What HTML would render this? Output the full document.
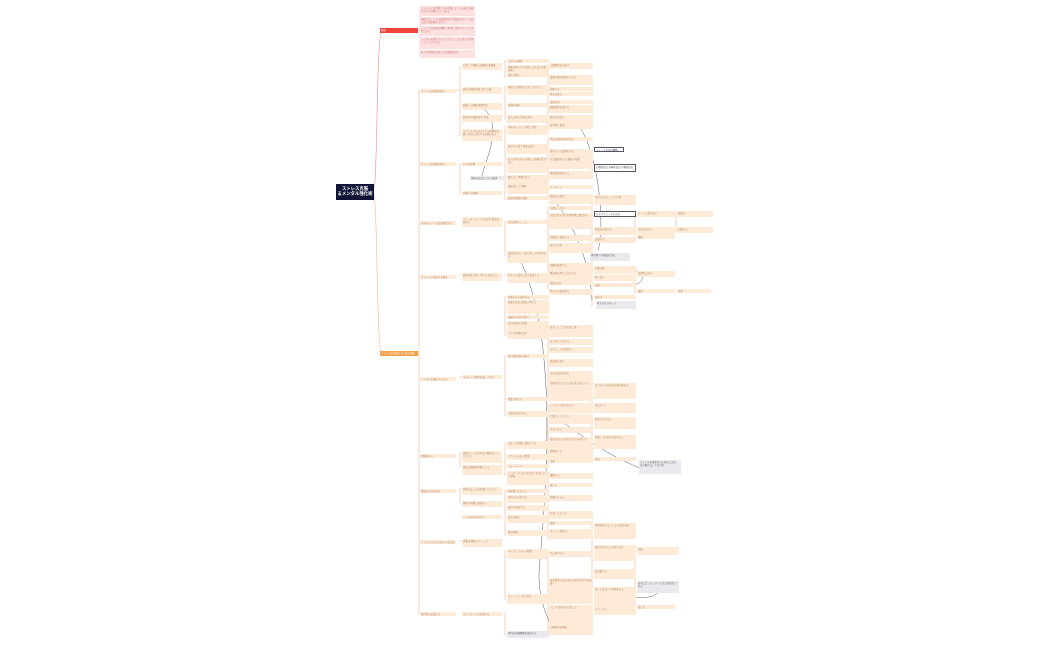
<!DOCTYPE html>
<html><head><meta charset="utf-8"><style>
html,body{margin:0;padding:0;background:#fff;width:1050px;height:650px;overflow:hidden;position:relative;font-family:"Liberation Sans","Noto Sans CJK JP",sans-serif}
.b{position:absolute;background:#fdebd8;font-size:2.4px;line-height:3px;color:#b5886a;overflow:hidden;box-sizing:border-box;padding:0.5px 1px}
.g{background:#e9e9ee;color:#666}
.o{background:#fff;border:0.6px solid #556;color:#444}
.p{background:#fde0e0;color:#c77}
svg{position:absolute;left:0;top:0}
</style></head><body>
<svg width="1050" height="650">
<g fill="none" stroke="#f2b48a" stroke-width="0.6">
<path d="M373 192 C378 192 376 30 382 30" stroke="#f08a80"/>
<path d="M373 192 C378 192 376 353 382 353"/>
<path d="M418 30 L420 30 M420 8 V56" stroke="#f4b0b0"/>
<path d="M419 90 V614 M418 353 H419"/>
<path d="M460 66 V136 M456 90 H460 M460 163 V194 M460 274 V276 M460 376 V378 M460 452 V468 M460 488 V504 M460 540 V542"/>
<path d="M505 60 V78 M505 86 V120 M505 126 V200 M505 221 V256 M505 274 V276 M505 296 V336 M505 355 V416 M505 442 V476 M505 490 V536 M505 550 V600 M505 613 V636"/>
<path d="M548 64 V130 M548 138 V200 M548 207 V290 M548 326 V400 M548 404 V464 M548 474 V500 M548 512 V540 M548 552 V636"/>
<path d="M592 150 V172 M592 196 V216 M592 228 V286 M592 296 V306 M592 384 V450 M592 524 V620"/>
<path d="M635 212 V240 M635 272 V294 M635 548 V590 M676 212 V232"/>
</g>
<g fill="none" stroke="#555a70" stroke-width="0.5">
<path d="M485 110 C505 130 480 170 482 178"/>
<path d="M540 186 C560 200 590 250 592 300"/>
<path d="M575 120 C600 150 605 230 598 250"/>
<path d="M630 270 C650 270 645 290 620 285"/>
<path d="M520 260 C560 340 545 500 540 560 C535 600 550 620 553 632"/>
<path d="M610 592 C640 600 660 600 660 586"/>
<path d="M560 420 C600 450 620 460 640 468"/>
</g>
</svg>
<div class="b" style="left:336px;top:184px;width:38px;height:16px;background:#111436;color:#fff;font-size:4.4px;line-height:5.2px;font-weight:bold;text-align:center;padding-top:2px">ストレス克服<br>るメンタル強化術</div>
<div class="b" style="left:380px;top:28px;width:38px;height:5px;background:#f0443a;color:#fff">概要</div>
<div class="b" style="left:380px;top:351px;width:38px;height:5px;background:#f5a04a;color:#fff">ストレスを克服するための実践</div>
<div class="b p" style="left:420px;top:6px;width:55px;height:10px">ストレスとは外部からの刺激によって心身に負担がかかる状態のことである</div>
<div class="b p" style="left:420px;top:17px;width:55px;height:8px">適度なストレスは成長を促すが過度なストレスは心身に悪影響を与える</div>
<div class="b p" style="left:420px;top:26px;width:55px;height:10px">ストレスの原因を理解し適切に対処することが大切である</div>
<div class="b p" style="left:420px;top:37px;width:55px;height:12px">メンタルを強化することでストレスに強い心を育てることができる</div>
<div class="b p" style="left:420px;top:50px;width:55px;height:8px">日々の習慣を見直し心の健康を保つ</div>
<div class="b" style="left:420px;top:89px;width:36px;height:4px">ストレスの原因を知る</div>
<div class="b" style="left:420px;top:162px;width:36px;height:4px">ストレスの影響を知る</div>
<div class="b" style="left:420px;top:221px;width:36px;height:4px">自分のストレス度を確認する</div>
<div class="b" style="left:420px;top:275px;width:36px;height:4px">ストレスに対処する基本</div>
<div class="b" style="left:420px;top:377px;width:36px;height:4px">メンタルを強化する方法</div>
<div class="b" style="left:420px;top:454px;width:36px;height:4px">習慣を作る</div>
<div class="b" style="left:420px;top:489px;width:36px;height:4px">周囲の協力を得る</div>
<div class="b" style="left:420px;top:540px;width:36px;height:4px">リラックスするための方法を身につける</div>
<div class="b" style="left:420px;top:612px;width:36px;height:4px">専門家に相談する</div>
<div class="b" style="left:462px;top:63px;width:40px;height:7px">仕事上の問題 人間関係 業務量</div>
<div class="b" style="left:462px;top:87px;width:40px;height:7px">家庭の問題 家族 育児 介護</div>
<div class="b" style="left:462px;top:103px;width:40px;height:7px">健康上の問題 体調不良</div>
<div class="b" style="left:462px;top:115px;width:40px;height:7px">経済的な問題 収入 借金</div>
<div class="b" style="left:462px;top:129px;width:40px;height:12px">ストレスが心身に与える影響を理解し早めに対処する必要がある</div>
<div class="b" style="left:462px;top:162px;width:40px;height:4px">心への影響</div>
<div class="b g" style="left:470px;top:176px;width:34px;height:4px">身体の反応について確認</div>
<div class="b" style="left:462px;top:191px;width:40px;height:4px">行動への影響</div>
<div class="b" style="left:462px;top:217px;width:40px;height:10px">チェックリストで自分の状態を把握する</div>
<div class="b" style="left:462px;top:273px;width:40px;height:8px">原因を取り除く 考え方を変える</div>
<div class="b" style="left:462px;top:375px;width:40px;height:4px">ポジティブ思考を身につける</div>
<div class="b" style="left:462px;top:451px;width:40px;height:12px">規則正しい生活を送り睡眠をしっかりとる</div>
<div class="b" style="left:462px;top:465px;width:40px;height:10px">適度な運動を習慣にする</div>
<div class="b" style="left:462px;top:487px;width:40px;height:8px">家族や友人に話を聞いてもらう</div>
<div class="b" style="left:462px;top:501px;width:40px;height:6px">職場の同僚に相談する</div>
<div class="b" style="left:462px;top:515px;width:40px;height:4px">一人で抱え込まない</div>
<div class="b" style="left:462px;top:539px;width:40px;height:8px">呼吸法 瞑想 ストレッチ</div>
<div class="b" style="left:462px;top:612px;width:40px;height:4px">カウンセリングを受ける</div>
<div class="b" style="left:507px;top:59px;width:42px;height:4px">上司との関係</div>
<div class="b" style="left:507px;top:65px;width:42px;height:10px">業務が多すぎて処理しきれない状態が続く</div>
<div class="b" style="left:507px;top:73px;width:42px;height:4px">責任の重さ</div>
<div class="b" style="left:507px;top:85px;width:42px;height:10px">家族との関係がうまくいかない</div>
<div class="b" style="left:507px;top:103px;width:42px;height:4px">体調の悪化</div>
<div class="b" style="left:507px;top:115px;width:42px;height:8px">収入の減少 将来の不安</div>
<div class="b" style="left:507px;top:125px;width:42px;height:10px">不安やイライラが続く状態</div>
<div class="b" style="left:507px;top:144px;width:42px;height:10px">集中力の低下 意欲の低下</div>
<div class="b" style="left:507px;top:157px;width:42px;height:16px">気分が落ち込む 何事にも興味がわかない</div>
<div class="b" style="left:507px;top:175px;width:42px;height:10px">眠れない 食欲がない</div>
<div class="b" style="left:507px;top:184px;width:42px;height:10px">頭痛 肩こり 胃痛</div>
<div class="b" style="left:507px;top:196px;width:42px;height:4px">飲酒や喫煙の増加</div>
<div class="b" style="left:507px;top:220px;width:42px;height:4px">自己診断チェック</div>
<div class="b" style="left:507px;top:251px;width:42px;height:12px">原因を特定して取り除く方法を考える</div>
<div class="b" style="left:507px;top:273px;width:42px;height:10px">考え方や受け止め方を変える</div>
<div class="b" style="left:507px;top:295px;width:42px;height:4px">物事の良い面を見る</div>
<div class="b" style="left:507px;top:300px;width:42px;height:14px">失敗を成長の機会と考える</div>
<div class="b" style="left:507px;top:315px;width:42px;height:4px">感謝の気持ちを持つ</div>
<div class="b" style="left:507px;top:321px;width:42px;height:10px">自分を褒める習慣</div>
<div class="b" style="left:507px;top:331px;width:42px;height:8px">小さな目標を設定</div>
<div class="b" style="left:507px;top:354px;width:42px;height:4px">自己肯定感を高める</div>
<div class="b" style="left:507px;top:397px;width:42px;height:4px">柔軟な考え方</div>
<div class="b" style="left:507px;top:411px;width:42px;height:6px">完璧主義をやめる</div>
<div class="b" style="left:507px;top:441px;width:42px;height:8px">決まった時間に寝起きする</div>
<div class="b" style="left:507px;top:454px;width:42px;height:6px">バランスの良い食事</div>
<div class="b" style="left:507px;top:464px;width:42px;height:4px">ウォーキング</div>
<div class="b" style="left:507px;top:471px;width:42px;height:14px">ジョギング ヨガ 水泳など自分に合った運動</div>
<div class="b" style="left:507px;top:489px;width:42px;height:4px">話を聞いてもらう</div>
<div class="b" style="left:507px;top:495px;width:42px;height:8px">気持ちを共有する</div>
<div class="b" style="left:507px;top:505px;width:42px;height:6px">悩みを相談する</div>
<div class="b" style="left:507px;top:515px;width:42px;height:8px">協力を頼む</div>
<div class="b" style="left:507px;top:530px;width:42px;height:6px">腹式呼吸</div>
<div class="b" style="left:507px;top:549px;width:42px;height:10px">マインドフルネス瞑想</div>
<div class="b" style="left:507px;top:594px;width:42px;height:10px">ストレッチ 入浴 音楽</div>
<div class="b g" style="left:507px;top:631px;width:42px;height:7px">専門の医療機関を受診する</div>
<div class="b" style="left:549px;top:63px;width:44px;height:6px">人間関係を見直す</div>
<div class="b" style="left:549px;top:75px;width:44px;height:10px">業務の優先順位をつける</div>
<div class="b" style="left:549px;top:87px;width:44px;height:4px">相談する</div>
<div class="b" style="left:549px;top:92px;width:44px;height:4px">休みを取る</div>
<div class="b" style="left:549px;top:100px;width:44px;height:4px">役割分担</div>
<div class="b" style="left:549px;top:105px;width:44px;height:8px">健康診断を受ける</div>
<div class="b" style="left:549px;top:115px;width:44px;height:8px">家計を見直す</div>
<div class="b" style="left:549px;top:123px;width:44px;height:6px">専門家に相談</div>
<div class="b" style="left:549px;top:137px;width:44px;height:4px">不安の原因を書き出す</div>
<div class="b" style="left:549px;top:149px;width:44px;height:8px">集中できる環境を作る</div>
<div class="b" style="left:549px;top:157px;width:44px;height:12px">気分転換をする 趣味の時間</div>
<div class="b" style="left:549px;top:171px;width:44px;height:8px">睡眠環境を整える</div>
<div class="b" style="left:549px;top:185px;width:44px;height:4px">マッサージ</div>
<div class="b" style="left:549px;top:194px;width:44px;height:10px">節度ある飲酒</div>
<div class="b" style="left:549px;top:206px;width:44px;height:4px">点数をつける</div>
<div class="b" style="left:549px;top:213px;width:44px;height:16px">点数が高い場合は専門家に相談する</div>
<div class="b" style="left:549px;top:235px;width:44px;height:6px">定期的に確認する</div>
<div class="b" style="left:549px;top:243px;width:44px;height:10px">変化に注意</div>
<div class="b" style="left:549px;top:263px;width:44px;height:10px">問題を整理する</div>
<div class="b" style="left:549px;top:271px;width:44px;height:12px">解決策を考えて実行する</div>
<div class="b" style="left:549px;top:281px;width:44px;height:4px">認知の歪み</div>
<div class="b" style="left:549px;top:289px;width:44px;height:6px">考え方の癖を知る</div>
<div class="b" style="left:549px;top:325px;width:44px;height:12px">良かったことを日記に書く</div>
<div class="b" style="left:549px;top:339px;width:44px;height:6px">ありがとうを言う</div>
<div class="b" style="left:549px;top:347px;width:44px;height:6px">できたことを認める</div>
<div class="b" style="left:549px;top:359px;width:44px;height:8px">達成感を得る</div>
<div class="b" style="left:549px;top:371px;width:44px;height:10px">自分の長所を知る</div>
<div class="b" style="left:549px;top:381px;width:44px;height:20px">短所も受け入れる 自分を大切にする</div>
<div class="b" style="left:549px;top:403px;width:44px;height:10px">いろいろな見方をする</div>
<div class="b" style="left:549px;top:414px;width:44px;height:10px">七割でよしとする</div>
<div class="b" style="left:549px;top:427px;width:44px;height:6px">生活リズム</div>
<div class="b" style="left:549px;top:437px;width:44px;height:12px">朝日を浴びる 夜はスマホを控える</div>
<div class="b" style="left:549px;top:449px;width:44px;height:10px">朝食をとる</div>
<div class="b" style="left:549px;top:459px;width:44px;height:4px">栄養</div>
<div class="b" style="left:549px;top:473px;width:44px;height:6px">継続する</div>
<div class="b" style="left:549px;top:483px;width:44px;height:4px">楽しむ</div>
<div class="b" style="left:549px;top:495px;width:44px;height:6px">信頼できる人</div>
<div class="b" style="left:549px;top:511px;width:44px;height:8px">共感してもらう</div>
<div class="b" style="left:549px;top:521px;width:44px;height:4px">感謝</div>
<div class="b" style="left:549px;top:529px;width:44px;height:10px">ゆっくり息を吐く</div>
<div class="b" style="left:549px;top:551px;width:44px;height:6px">今に集中する</div>
<div class="b" style="left:549px;top:578px;width:44px;height:26px">体を伸ばす ぬるめのお湯 好きな音楽を聴く</div>
<div class="b" style="left:549px;top:605px;width:44px;height:20px">アロマ 自然の中で過ごす</div>
<div class="b" style="left:549px;top:625px;width:44px;height:10px">心療内科 精神科</div>
<div class="b o" style="left:594px;top:147px;width:30px;height:5px">ストレス反応の種類</div>
<div class="b o" style="left:594px;top:164px;width:42px;height:8px">心理的反応 身体的反応 行動的反応</div>
<div class="b" style="left:594px;top:195px;width:42px;height:10px">早めに気付くことが大切</div>
<div class="b o" style="left:594px;top:211px;width:42px;height:6px">セルフチェックの方法</div>
<div class="b" style="left:594px;top:227px;width:42px;height:8px">結果を記録する</div>
<div class="b" style="left:594px;top:237px;width:42px;height:6px">比較する</div>
<div class="b g" style="left:590px;top:253px;width:40px;height:8px">専門家への相談の目安</div>
<div class="b" style="left:594px;top:266px;width:42px;height:8px">行動計画</div>
<div class="b" style="left:594px;top:275px;width:42px;height:6px">振り返り</div>
<div class="b" style="left:594px;top:283px;width:42px;height:4px">記録</div>
<div class="b" style="left:594px;top:295px;width:42px;height:4px">見直す</div>
<div class="b g" style="left:596px;top:301px;width:40px;height:8px">考え方のパターン</div>
<div class="b" style="left:594px;top:383px;width:42px;height:16px">日々の小さな成功を積み重ねる</div>
<div class="b" style="left:594px;top:403px;width:42px;height:10px">自信がつく</div>
<div class="b" style="left:594px;top:417px;width:42px;height:12px">他者と比べない</div>
<div class="b" style="left:594px;top:435px;width:42px;height:14px">失敗しても自分を責めない</div>
<div class="b" style="left:594px;top:457px;width:42px;height:4px">休息</div>
<div class="b" style="left:594px;top:523px;width:42px;height:16px">呼吸を整えることで心が落ち着く</div>
<div class="b" style="left:594px;top:545px;width:42px;height:16px">雑念が浮かんでも受け流す</div>
<div class="b" style="left:594px;top:569px;width:42px;height:10px">毎日続ける</div>
<div class="b" style="left:594px;top:587px;width:42px;height:20px">体と心をほぐす時間を作る</div>
<div class="b" style="left:594px;top:607px;width:42px;height:8px">リラックス</div>
<div class="b" style="left:637px;top:211px;width:38px;height:6px">ストレス度が高い</div>
<div class="b" style="left:637px;top:227px;width:38px;height:8px">対処法を試す</div>
<div class="b" style="left:637px;top:235px;width:38px;height:4px">継続</div>
<div class="b" style="left:637px;top:271px;width:38px;height:6px">目標を決める</div>
<div class="b" style="left:637px;top:289px;width:38px;height:4px">確認</div>
<div class="b g" style="left:639px;top:460px;width:42px;height:14px">ストレスを溜めないための工夫を日々続けることが大切</div>
<div class="b" style="left:637px;top:547px;width:42px;height:8px">効果</div>
<div class="b g" style="left:637px;top:581px;width:42px;height:12px">自分に合ったリラックス方法を見つける</div>
<div class="b" style="left:637px;top:605px;width:38px;height:4px">楽しむ</div>
<div class="b" style="left:677px;top:211px;width:36px;height:6px">相談先</div>
<div class="b" style="left:677px;top:227px;width:36px;height:6px">記録する</div>
<div class="b" style="left:677px;top:289px;width:34px;height:4px">改善</div>
</body></html>
